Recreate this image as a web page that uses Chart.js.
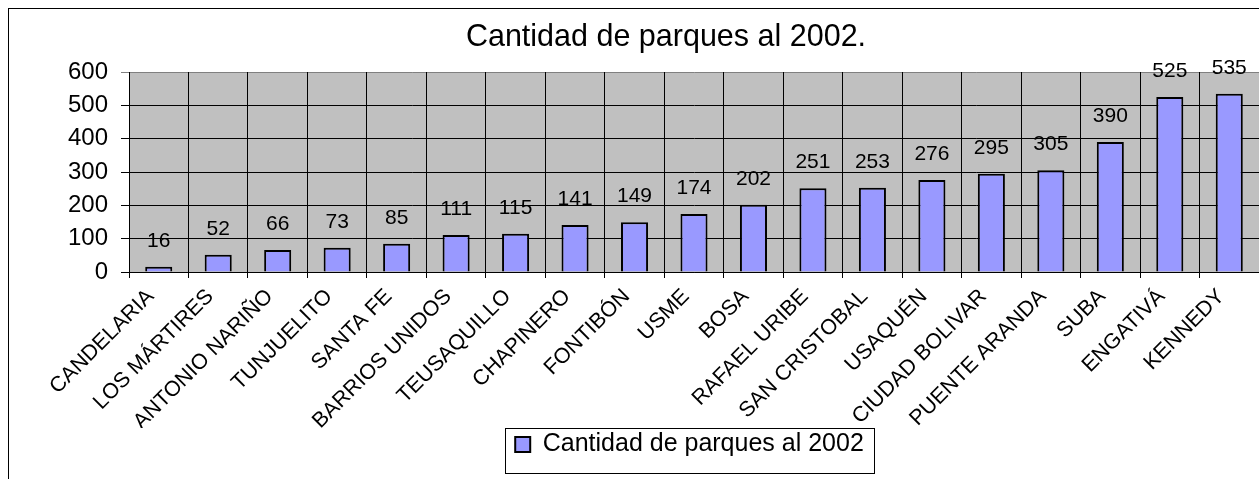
<!DOCTYPE html>
<html>
<head>
<meta charset="utf-8">
<script src="https://cdn.jsdelivr.net/npm/chart.js@4/dist/chart.umd.min.js"></script>
<style>
  html, body { margin: 0; padding: 0; background: #fff; overflow: hidden; }
  #wrap { position: relative; width: 1259px; height: 479px; }
</style>
</head>
<body>
<div id="wrap"><canvas id="parquesChart" width="1259" height="479"></canvas></div>
<script>
// datos del grafico
const localidades = ['CANDELARIA', 'LOS MÁRTIRES', 'ANTONIO NARIÑO', 'TUNJUELITO', 'SANTA FE',
  'BARRIOS UNIDOS', 'TEUSAQUILLO', 'CHAPINERO', 'FONTIBÓN', 'USME', 'BOSA', 'RAFAEL URIBE',
  'SAN CRISTOBAL', 'USAQUÉN', 'CIUDAD BOLIVAR', 'PUENTE ARANDA', 'SUBA', 'ENGATIVÁ', 'KENNEDY'];
const cantidadParques = [16, 52, 66, 73, 85, 111, 115, 141, 149, 174, 202, 251, 253, 276, 295, 305, 390, 525, 535];
const tituloGrafico = 'Cantidad de parques al 2002.';
const nombreSerie = 'Cantidad de parques al 2002';
const yMin = 0, yMax = 600, yPaso = 100;

const FONT = '"Liberation Sans", Arial, sans-serif';

// fondo gris del area de trazado, borde exterior, titulo y borde de leyenda
const fondoPlugin = {
  id: 'fondo',
  afterLayout(chart) {
    // la leyenda se centra como en el original (grafico mas ancho que la ventana)
    const lg = chart.legend;
    if (lg) {
      lg.left = 120;
      lg.right = chart.width;
      lg.width = chart.width - 120;
    }
  },
  beforeDraw(chart) {
    const { ctx, chartArea } = chart;
    ctx.save();
    ctx.fillStyle = '#fff';
    ctx.fillRect(0, 0, chart.width, chart.height);
    ctx.fillStyle = '#C0C0C0';
    ctx.fillRect(chartArea.left, chartArea.top, chartArea.right - chartArea.left, chartArea.bottom - chartArea.top);
    ctx.restore();
  },
  afterDraw(chart) {
    const ctx = chart.ctx;
    ctx.save();
    ctx.strokeStyle = '#000';
    ctx.lineWidth = 1;
    ctx.strokeRect(8.5, 8.5, 3000, 3000);
    // titulo
    ctx.fillStyle = '#000';
    ctx.font = '30.5px ' + FONT;
    ctx.textAlign = 'center';
    ctx.textBaseline = 'alphabetic';
    ctx.fillText(tituloGrafico, 666, 46);
    // borde de la leyenda
    const lg = chart.legend;
    if (lg && lg.legendHitBoxes && lg.legendHitBoxes.length) {
      const hb = lg.legendHitBoxes[0];
      ctx.strokeStyle = '#000';
      ctx.lineWidth = 1;
      ctx.strokeRect(Math.round(hb.left - 10) + 0.5, Math.round(lg.top) + 0.5, Math.round(hb.width + 20), 45);
    }
    ctx.restore();
  }
};

// etiquetas de valor encima de cada barra
const etiquetasPlugin = {
  id: 'etiquetas',
  afterDatasetsDraw(chart) {
    const ctx = chart.ctx;
    const meta = chart.getDatasetMeta(0);
    ctx.save();
    ctx.fillStyle = '#000';
    ctx.font = '21px ' + FONT;
    ctx.textAlign = 'center';
    ctx.textBaseline = 'alphabetic';
    meta.data.forEach((bar, i) => {
      ctx.fillText(cantidadParques[i], bar.x, bar.y - 20);
    });
    ctx.restore();
  }
};

const ctx = document.getElementById('parquesChart').getContext('2d');
const myChart = new Chart(ctx, {
  type: 'bar',
  data: {
    labels: localidades,
    datasets: [{
      label: nombreSerie,
      data: cantidadParques,
      backgroundColor: '#9999FF',
      borderColor: '#000',
      borderWidth: 2,
      categoryPercentage: 1,
      barPercentage: 0.455
    }]
  },
  options: {
    responsive: false,
    animation: false,
    devicePixelRatio: 1,
    layout: { padding: { top: 72, left: 60, right: 0, bottom: 12 } },
    plugins: {
      title: { display: false },
      tooltip: { enabled: false },
      legend: {
        position: 'bottom',
        labels: {
          color: '#000',
          font: { family: FONT, size: 25 },
          boxWidth: 15,
          boxHeight: 15,
          padding: 4
        }
      }
    },
    scales: {
      y: {
        min: yMin,
        max: yMax,
        afterFit(axis) { axis.width = 69; },
        ticks: {
          stepSize: yPaso,
          color: '#000',
          padding: 13,
          font: { family: FONT, size: 24 }
        },
        grid: {
          color: (c) => (c.tick && c.tick.value === yMax ? '#808080' : '#000'),
          lineWidth: 1,
          tickLength: 8
        },
        border: { color: '#000', width: 1 }
      },
      x: {
        afterFit(axis) { axis.height = 156; },
        ticks: {
          autoSkip: false,
          maxRotation: 45,
          minRotation: 45,
          color: '#000',
          padding: 6,
          labelOffset: -8,
          font: { family: FONT, size: 21.5 }
        },
        grid: {
          offset: true,
          color: '#000',
          lineWidth: 1,
          tickLength: 6
        },
        border: { color: '#000', width: 1 }
      }
    }
  },
  plugins: [fondoPlugin, etiquetasPlugin]
});
</script>
</body>
</html>
